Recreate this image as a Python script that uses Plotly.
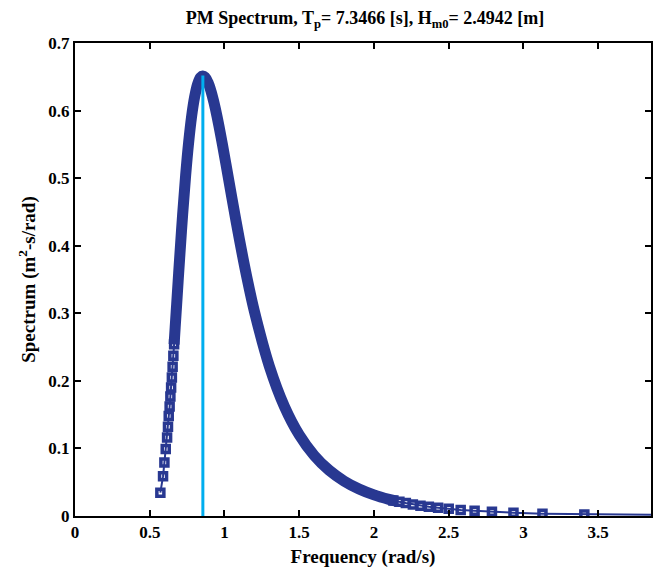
import plotly.graph_objects as go

# Sparse markers at the low-frequency end (rad/s, m^2-s/rad)
low_freq = [0.571, 0.589, 0.598, 0.607, 0.616, 0.622, 0.627, 0.633, 0.638, 0.643, 0.648, 0.653, 0.658, 0.663]
low_spec = [0.0345, 0.059, 0.079, 0.099, 0.116, 0.132, 0.148, 0.162, 0.177, 0.190, 0.205, 0.221, 0.237, 0.254]

# Dense part of the curve (markers overlap into a thick band)
band_freq = [0.663, 0.67, 0.68, 0.69, 0.70, 0.72, 0.74, 0.76, 0.78, 0.80, 0.82,
             0.84, 0.855, 0.87, 0.89, 0.91, 0.93, 0.95, 0.98, 1.01, 1.05, 1.10, 1.15, 1.20, 1.30,
             1.40, 1.50, 1.60, 1.70, 1.80, 1.90, 2.00, 2.10, 2.15]
band_spec = [0.254, 0.2788, 0.3133, 0.3478, 0.3817, 0.4462, 0.5039, 0.5525,
             0.5914, 0.6200, 0.6391, 0.6490, 0.6510, 0.6494, 0.6415, 0.6285, 0.6115, 0.5914, 0.5573,
             0.5204, 0.4701, 0.4091, 0.3528, 0.3028, 0.2217, 0.1625, 0.1200, 0.0896, 0.0676, 0.0517,
             0.0399, 0.0312, 0.0246, 0.0219]

# Sparse markers at the high-frequency end
high_freq = [2.13, 2.17, 2.213, 2.26, 2.311, 2.367, 2.429, 2.5, 2.58, 2.673, 2.789, 2.933, 3.127, 3.407, 4.2]
high_spec = [0.0230, 0.0210, 0.0191, 0.0172, 0.0153, 0.0137, 0.0123, 0.0106, 0.0090, 0.0076, 0.0062,
             0.0048, 0.0035, 0.0023, 0.0008]

# Peak frequency line
peak_freq = 0.8553
peak_spec = 0.652

title_text = "PM Spectrum, T<sub>p</sub>= 7.3466 [s], H<sub>m0</sub>= 2.4942 [m]"
x_title = "Frequency (rad/s)"
y_title = "Spectrum (m<sup>2</sup>-s/rad)"
x_ticks = [0, 0.5, 1, 1.5, 2, 2.5, 3, 3.5]
y_ticks = [0, 0.1, 0.2, 0.3, 0.4, 0.5, 0.6, 0.7]

BLUE = "#283891"
CYAN = "#00AEEF"
FONT = "Liberation Serif"

fig = go.Figure()

all_freq = low_freq + band_freq[1:-1] + high_freq
all_spec = low_spec + band_spec[1:-1] + high_spec

fig.add_trace(go.Scatter(
    x=all_freq, y=all_spec, mode="lines",
    line=dict(color=BLUE, width=2), showlegend=False, hoverinfo="skip"))
fig.add_trace(go.Scatter(
    x=low_freq + high_freq, y=low_spec + high_spec, mode="markers",
    marker=dict(symbol="square-open", size=7, color=BLUE, line=dict(color=BLUE, width=3.5)),
    showlegend=False))
fig.add_trace(go.Scatter(
    x=band_freq, y=band_spec, mode="lines",
    line=dict(color=BLUE, width=11, shape="spline"), showlegend=False))
fig.add_trace(go.Scatter(
    x=[peak_freq, peak_freq], y=[0, peak_spec], mode="lines",
    line=dict(color=CYAN, width=3), showlegend=False))

axis_common = dict(
    showline=True, linecolor="black", linewidth=2, mirror="ticks",
    ticks="inside", ticklen=6, tickwidth=2, tickcolor="black",
    showgrid=False, zeroline=False,
    tickfont=dict(family=FONT, size=17, color="black"),
)

fig.update_layout(
    width=653, height=578,
    margin=dict(l=75, r=0, t=43, b=62),
    plot_bgcolor="white", paper_bgcolor="white",
    title=dict(text="<b>" + title_text + "</b>", x=365 / 653, xref="container", xanchor="center",
               y=1 - 18 / 578, yref="container", yanchor="middle",
               font=dict(family=FONT, size=18, color="black")),
    xaxis=dict(range=[0, 3.853], tickvals=x_ticks, ticktext=["<b>%g</b>" % v for v in x_ticks],
               title=dict(text="<b>" + x_title + "</b>", standoff=8,
                          font=dict(family=FONT, size=19, color="black")),
               **axis_common),
    yaxis=dict(range=[0, 0.7], tickvals=y_ticks, ticktext=["<b>%g</b>" % v for v in y_ticks],
               title=dict(text="<b>" + y_title + "</b>", standoff=8,
                          font=dict(family=FONT, size=19, color="black")),
               **axis_common),
)

fig.write_html("out.html")
